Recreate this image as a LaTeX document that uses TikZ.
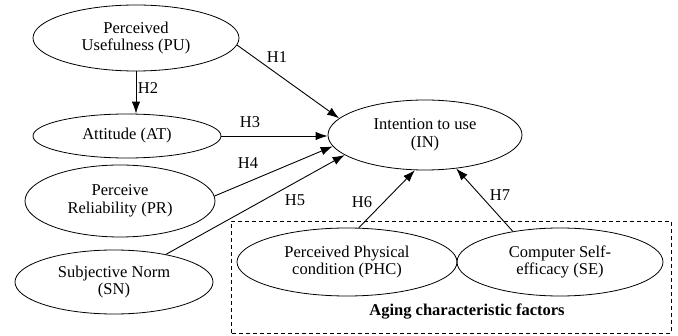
\documentclass[tikz,border=0pt]{standalone}
\usepackage{fontspec}
\setmainfont{Liberation Serif}
\usetikzlibrary{shapes.geometric}
\usetikzlibrary{arrows.meta}

\tikzset{
 factor/.style={draw, ellipse, line width=0.8pt, inner sep=0pt, align=center, font=\fontsize{16.5}{17.5}\selectfont},
 hyp/.style={line width=0.9pt, -{Latex[length=12pt,width=8.5pt]}},
 hlabel/.style={inner sep=0pt, font=\fontsize{16.5}{17.5}\selectfont}
}

\begin{document}
\begin{tikzpicture}[x=1pt,y=1pt]
\useasboundingbox (0,0) rectangle (678,335);
% factors
\node[factor, minimum width=206, minimum height=66] (PU) at (136,297) {Perceived\\Usefulness (PU)};
\node[factor, minimum width=188, minimum height=44] (AT) at (127,199) {Attitude (AT)};
\node[factor, minimum width=190, minimum height=72] (PR) at (120,134) {Perceive\\Reliability (PR)};
\node[factor, minimum width=198, minimum height=64] (SN) at (114,53) {Subjective Norm\\(SN)};
\node[factor, minimum width=194, minimum height=70] (IN) at (425,200) {Intention to use\\(IN)};
\node[factor, minimum width=220, minimum height=68] (PHC) at (347,73) {Perceived Physical\\condition (PHC)};
\node[factor, minimum width=206, minimum height=68] (SE) at (560,73) {Computer Self-\\efficacy (SE)};
% aging group
\coordinate (boxsw) at (231,2);
\coordinate (boxne) at (671,114);
\draw[line width=0.8pt, dash pattern=on 4pt off 3pt] (boxsw) rectangle (boxne);
\node[font=\fontsize{16.5}{17.5}\selectfont\bfseries] (aging) at (467,23) {Aging characteristic factors};
% hypotheses
\draw[hyp] (PU.-4) -- (IN.169);
\draw[hyp] (PU.south) -- (PU.south |- AT.north);
\draw[hyp] (AT.east) -- (AT.east -| IN.west);
\draw[hyp] (PR.3) -- (IN.187);
\draw[hyp] (SN.28) -- (IN.194);
\draw[hyp] (PHC.71) -- (IN.254);
\draw[hyp] (SE.147) -- (IN.313);
\node[hlabel] (h1) at (277,278) {H1};
\node[hlabel] (h2) at (148,247) {H2};
\node[hlabel] (h3) at (250,213) {H3};
\node[hlabel] (h4) at (248,172) {H4};
\node[hlabel] (h5) at (295,135) {H5};
\node[hlabel] (h6) at (362,133) {H6};
\node[hlabel] (h7) at (500,140) {H7};
\end{tikzpicture}
\end{document}
